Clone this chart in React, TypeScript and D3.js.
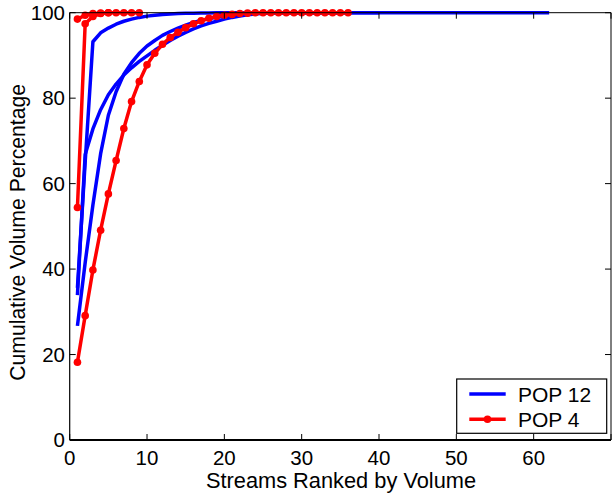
import React from "react";
import * as d3 from "d3";

// ---- Data ----
const xTicks = [0, 10, 20, 30, 40, 50, 60, 70];
const xTickLabels = ["0", "10", "20", "30", "40", "50", "60", ""];
const yTicks = [0, 20, 40, 60, 80, 100];
const yTickLabels = ["0", "20", "40", "60", "80", "100"];

// POP 12 (blue) streams: cumulative volume % by rank (rank starts at 1)
const pop12A = [
  35.6, 65.0, 93.2, 95.3, 96.4, 97.3, 98.0, 98.5, 98.9, 99.2,
  99.4, 99.6, 99.7, 99.8, 99.85, 99.9, 99.93, 99.95, 99.97, 99.98,
  100, 100, 100, 100, 100, 100, 100, 100, 100, 100,
  100, 100, 100, 100, 100, 100, 100, 100, 100, 100,
  100, 100, 100, 100, 100, 100, 100, 100, 100, 100,
  100, 100, 100, 100, 100, 100, 100, 100, 100, 100,
  100, 100,
];
const pop12B = [
  33.9, 66.8, 72.8, 77.3, 80.8, 83.3, 85.4, 87.1, 88.6, 89.9,
  91.2, 92.4, 93.5, 94.5, 95.4, 96.2, 96.9, 97.5, 98.0, 98.5,
  98.9, 99.2, 99.5, 99.7, 99.85, 99.95, 100, 100, 100, 100,
  100, 100, 100, 100, 100, 100, 100, 100, 100, 100,
];
const pop12C = [
  26.7, 41.5, 55.0, 67.0, 76.0, 81.5, 85.6, 88.3, 90.5, 92.2,
  93.5, 94.7, 95.6, 96.4, 97.1, 97.7, 98.2, 98.6, 99.0, 99.3,
  99.6, 99.8, 99.9, 100, 100, 100, 100, 100, 100, 100,
  100, 100, 100, 100, 100,
];

// POP 4 (red) streams
const pop4A = [98.5, 99.4, 99.8, 99.9, 100, 100, 100, 100, 100];
const pop4B = [54.4, 97.4, 99.1, 99.8, 100];
const pop4C = [
  18.2, 29.1, 39.8, 49.1, 57.6, 65.4, 72.9, 79.2, 83.9, 87.8,
  90.5, 92.6, 94.2, 95.4, 96.5, 97.4, 98.1, 98.7, 99.1, 99.4,
  99.6, 99.8, 99.9, 100, 100, 100, 100, 100, 100, 100,
  100, 100, 100, 100, 100, 100,
];

const blueSeries = [pop12A, pop12B, pop12C];
const redSeries = [pop4A, pop4B, pop4C];
const legendLabels = ["POP 12", "POP 4"];

const W = 612;
const H = 497;
const M = { left: 69.7, right: 611, top: 12.7, bottom: 440 };
const FONT = "'Liberation Sans', Arial, Helvetica, sans-serif";
const BLUE = "#0000ff";
const RED = "#ff0000";

export default function App() {
  const x = d3.scaleLinear().domain([0, 70]).range([M.left, M.right]);
  const y = d3.scaleLinear().domain([0, 100]).range([M.bottom, M.top]);
  const line = d3
    .line<number>()
    .x((_, i) => x(i + 1))
    .y((d) => y(d));
  const tick = 6;

  return (
    <svg
      width={W}
      height={H}
      style={{ position: "absolute", left: 0, top: 0, background: "#fff" }}
      fontFamily={FONT}
    >
      <rect x={0} y={0} width={W} height={H} fill="#fff" />
      {/* data */}
      {blueSeries.map((s, k) => (
        <path key={"b" + k} d={line(s) || ""} fill="none" stroke={BLUE} strokeWidth={3.5} strokeLinejoin="round" />
      ))}
      {redSeries.map((s, k) => (
        <g key={"r" + k}>
          <path d={line(s) || ""} fill="none" stroke={RED} strokeWidth={3.5} strokeLinejoin="round" />
          {s.map((v, i) => (
            <circle key={i} cx={x(i + 1)} cy={y(v)} r={3.8} fill={RED} />
          ))}
        </g>
      ))}
      {/* axes box */}
      <line x1={M.left} x2={M.right} y1={M.top} y2={M.top} stroke="#000" strokeWidth={1} />
      <line x1={M.left} x2={M.left} y1={M.top} y2={M.bottom} stroke="#000" strokeWidth={1.2} />
      <line x1={M.right} x2={M.right} y1={M.top} y2={M.bottom} stroke="#000" strokeWidth={1} />
      <line x1={M.left} x2={M.right} y1={M.bottom} y2={M.bottom} stroke="#000" strokeWidth={2} />
      {xTicks.map((t, i) => (
        <g key={"xt" + t}>
          <line x1={x(t)} x2={x(t)} y1={M.bottom} y2={M.bottom - tick} stroke="#000" strokeWidth={1} />
          <line x1={x(t)} x2={x(t)} y1={M.top} y2={M.top + tick} stroke="#000" strokeWidth={1} />
          <text x={x(t)} y={464.5} textAnchor="middle" fontSize={20.5} fill="#000">
            {xTickLabels[i]}
          </text>
        </g>
      ))}
      {yTicks.map((t, i) => (
        <g key={"yt" + t}>
          <line x1={M.left} x2={M.left + tick} y1={y(t)} y2={y(t)} stroke="#000" strokeWidth={1} />
          <line x1={M.right} x2={M.right - tick} y1={y(t)} y2={y(t)} stroke="#000" strokeWidth={1} />
          <text x={65} y={y(t) + 7.3} textAnchor="end" fontSize={20.5} fill="#000">
            {yTickLabels[i]}
          </text>
        </g>
      ))}
      <text x={341} y={488} textAnchor="middle" fontSize={21.8} fill="#000">
        Streams Ranked by Volume
      </text>
      <text
        transform={`translate(24.5, ${(M.top + M.bottom) / 2 + 6}) rotate(-90)`}
        textAnchor="middle"
        fontSize={21.2}
        fill="#000"
      >
        Cumulative Volume Percentage
      </text>
      {/* legend */}
      <rect x={456.7} y={379} width={150} height={54.3} fill="#fff" stroke="#000" strokeWidth={1.2} />
      <line x1={469.3} x2={505.7} y1={394} y2={394} stroke={BLUE} strokeWidth={3.5} />
      <text x={518} y={401.7} fontSize={21} fill="#000">{legendLabels[0]}</text>
      <line x1={469.3} x2={505.7} y1={419.3} y2={419.3} stroke={RED} strokeWidth={3.5} />
      <circle cx={487.5} cy={419.3} r={3.8} fill={RED} />
      <text x={518} y={426.7} fontSize={21} fill="#000">{legendLabels[1]}</text>
    </svg>
  );
}
